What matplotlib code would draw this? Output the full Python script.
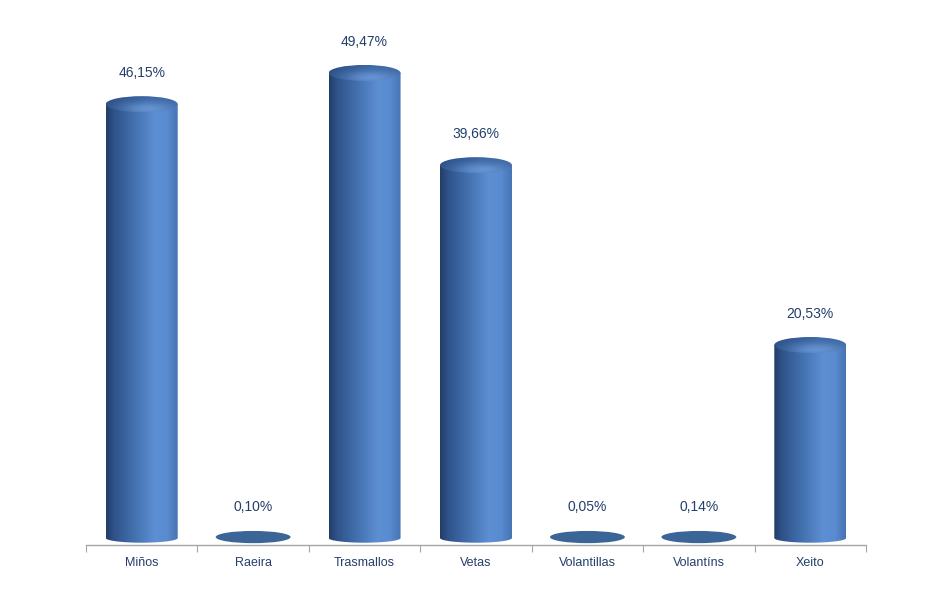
import numpy as np
import matplotlib
matplotlib.use("Agg")
import matplotlib.pyplot as plt
from matplotlib.colors import LinearSegmentedColormap, to_rgb
from matplotlib.patches import Ellipse, PathPatch
from matplotlib.path import Path

categories = ["Miños", "Raeira", "Trasmallos", "Vetas", "Volantillas", "Volantíns", "Xeito"]
values = [46.15, 0.10, 49.47, 39.66, 0.05, 0.14, 20.53]

label_color = "#243f6b"
body_cmap = LinearSegmentedColormap.from_list(
    "body", [(0.0, "#223d66"), (0.1, "#2e5188"), (0.4, "#4472b0"),
             (0.68, "#5d8fd3"), (0.85, "#5a8bd0"), (1.0, "#4674b4")])

fig = plt.figure(figsize=(9.36, 6.0), dpi=100)
ax = fig.add_axes([86 / 936, 55 / 600, 780 / 936, 525 / 600])

bw = 0.646   # bar width in category units
eh = 1.7     # top ellipse height (data units)
bh = 0.5     # bottom curve depth (data units)

grad = np.linspace(0, 1, 256).reshape(1, -1)

for i, v in enumerate(values):
    x0, x1 = i - bw / 2, i + bw / 2
    label = f"{v:.2f}".replace(".", ",") + "%"
    if v < 1:
        # almost empty bar: flat disc
        ax.add_patch(Ellipse((i, 0.1), bw * 1.04, 1.3, facecolor="#3b6497",
                             edgecolor="none", zorder=3))
        ax.text(i, 3.3, label, ha="center", va="center", fontsize=10,
                color=label_color, family="Liberation Sans")
        continue

    t = np.linspace(np.pi, 2 * np.pi, 60)
    bx = i + bw / 2 * np.cos(t)
    by = bh * np.sin(t)
    verts = [(x0, v)] + list(zip(bx, by)) + [(x1, v), (x0, v)]
    codes = [Path.MOVETO] + [Path.LINETO] * (len(verts) - 2) + [Path.CLOSEPOLY]
    clip = PathPatch(Path(verts, codes), transform=ax.transData,
                     facecolor="none", edgecolor="none")
    ax.add_patch(clip)
    im = ax.imshow(grad, cmap=body_cmap, aspect="auto", origin="lower",
                   extent=(x0, x1, -bh, v), interpolation="bilinear", zorder=2)
    im.set_clip_path(clip)

    # top face
    nx, ny = 120, 40
    gx, gy = np.meshgrid(np.linspace(0, 1, nx), np.linspace(0, 1, ny))
    k = np.exp(-((gx - 0.6) ** 2 / 0.15 + (gy - 0.2) ** 2 / 0.2))
    side = np.clip(gx * 1.6, 0, 1)[..., None]
    dark = np.array(to_rgb("#2b4f84")) * (1 - side) + np.array(to_rgb("#3b67a3")) * side
    light = np.array(to_rgb("#6592d0"))
    img = dark * (1 - k[..., None]) + light[None, None, :] * k[..., None]
    top = Ellipse((i, v), bw, eh, transform=ax.transData,
                  facecolor="none", edgecolor="none")
    ax.add_patch(top)
    tim = ax.imshow(img, aspect="auto", origin="lower",
                    extent=(x0, x1, v - eh / 2, v + eh / 2),
                    interpolation="bilinear", zorder=3)
    tim.set_clip_path(top)

    ax.text(i, v + 3.3, label, ha="center", va="center", fontsize=10,
            color=label_color, family="Liberation Sans")

ax.set_xlim(-0.5, len(categories) - 0.5)
ax.set_ylim(-0.745, 55.1)

for s in ["top", "left", "right"]:
    ax.spines[s].set_visible(False)
ax.spines["bottom"].set_color("#a6a6a6")
ax.spines["bottom"].set_linewidth(1.0)
ax.set_yticks([])

ax.set_xticks(np.arange(-0.5, len(categories)), minor=False)
ax.set_xticklabels([])
ax.set_xticks(np.arange(len(categories)), minor=True)
ax.set_xticklabels(categories, minor=True, fontsize=9, color=label_color,
                   family="Liberation Sans")
ax.tick_params(axis="x", which="major", length=5, color="#a6a6a6", direction="out")
ax.tick_params(axis="x", which="minor", length=0, pad=9)

fig.savefig("out.png", dpi=100, facecolor="white")
